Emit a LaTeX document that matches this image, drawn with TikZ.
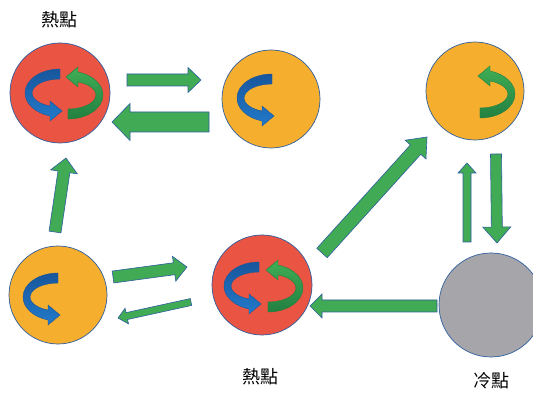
\documentclass[tikz,border=0pt]{standalone}
\usepackage{fontspec}
\newfontfamily\cjk{Noto Sans CJK TC}
\usetikzlibrary{calc}

\definecolor{hotred}{RGB}{234,84,66}
\definecolor{warmorange}{RGB}{245,174,46}
\definecolor{coldgray}{RGB}{166,166,170}
\definecolor{rimblue}{RGB}{46,94,160}
\definecolor{flowgreen}{RGB}{64,170,84}
\definecolor{swblueD}{RGB}{24,86,156}
\definecolor{swblueL}{RGB}{34,122,202}
\definecolor{swgreenD}{RGB}{34,128,64}
\definecolor{swgreenL}{RGB}{64,174,86}

\tikzset{
  spot/.style={circle, inner sep=0pt, minimum size=#1, draw=rimblue, line width=0.7pt},
  barrow/.style={fill=flowgreen, draw=rimblue, line width=0.6pt, line join=miter},
  lbl/.style={font=\cjk\fontsize{18}{20}\selectfont, inner sep=0pt},
  % curved arrow sweeping left, head at the bottom pointing right
  bluesw/.pic={
    \shade[top color=swblueD, bottom color=swblueL, draw=swblueD, line width=0.4pt]
      (0,24) arc[start angle=90, end angle=253.4, x radius=35pt, y radius=24pt]
      -- (-10,-28) -- (2,-18) -- (-10,-8)
      -- (-10,-13.07) arc[start angle=249, end angle=90, x radius=28pt, y radius=14pt]
      -- cycle;
  },
  % curved arrow sweeping right, head at the top pointing left
  greensw/.pic={
    \shade[top color=swgreenL, bottom color=swgreenD, draw=swgreenD, line width=0.4pt]
      (0,-24) arc[start angle=270, end angle=433.4, x radius=35pt, y radius=24pt]
      -- (10,28) -- (-2,18) -- (10,8)
      -- (10,13.07) arc[start angle=429, end angle=270, x radius=28pt, y radius=14pt]
      -- cycle;
  }
}

% block arrow: #1 tail, #2 tip, #3 half shaft width, #4 half head width, #5 head length
\newcommand\blockarrow[5]{%
  \coordinate (ba-h) at ($(#2)!#5!(#1)$);
  \draw[barrow] ($(#1)!#3!90:(#2)$) -- ($(ba-h)!#3!-90:(#1)$) -- ($(ba-h)!#4!-90:(#1)$)
    -- (#2) -- ($(ba-h)!#4!90:(#1)$) -- ($(ba-h)!#3!90:(#1)$) -- ($(#1)!#3!-90:(#2)$) -- cycle;}

\begin{document}
\begin{tikzpicture}[x=1pt, y=1pt]
\useasboundingbox (0,0) rectangle (533,393);

% spots
\node[spot=100pt, fill=hotred]     (hotTL)  at (60,300)  {};
\node[spot=98pt,  fill=warmorange] (warmTM) at (271,294) {};
\node[spot=98pt,  fill=warmorange] (warmTR) at (475,302) {};
\node[spot=98pt,  fill=warmorange] (warmBL) at (58,98)   {};
\node[spot=100pt, fill=hotred]     (hotBM)  at (262,108) {};
\node[spot=104pt, fill=coldgray]   (coldBR) at (491,88)  {};

% swirls inside the spots
\pic at ($(hotTL)+(0,0)$) {bluesw};
\pic at ($(hotTL)+(8,-2)$) {greensw};
\pic at ($(warmTM)+(1,1)$) {bluesw};
\pic at ($(warmTR)+(5,-3)$) {greensw};
\pic at ($(warmBL)+(0,-2)$) {bluesw};
\pic at ($(hotBM)+(-3,-1)$) {bluesw};
\pic at ($(hotBM)+(6,-3)$) {greensw};

% labels
\node[lbl] (lblTL) at (59,373) {熱點};
\node[lbl] (lblBM) at (260,16) {熱點};
\node[lbl] (lblBR) at (491,12) {冷點};

% flow arrow end points
\coordinate (tl-out)  at (127,313);  \coordinate (tm-in)   at (201,313);
\coordinate (tm-out)  at (209,271);  \coordinate (tl-in)   at (112,271);
\coordinate (bl-up)   at (55,161);   \coordinate (tl-low)  at (66,235);
\coordinate (bl-out)  at (113,116);  \coordinate (bm-in)   at (187,126);
\coordinate (bm-back) at (191,91);   \coordinate (bl-in)   at (118,75);
\coordinate (bm-up)   at (322,140);  \coordinate (tr-in)   at (427,256);
\coordinate (br-up)   at (467,151);  \coordinate (tr-low)  at (467,230);
\coordinate (tr-down) at (496,239);  \coordinate (br-top)  at (497,150);
\coordinate (br-out)  at (437,87);   \coordinate (bm-side) at (310,87);

% flow arrows
\blockarrow{tl-out}{tm-in}{6pt}{12.5pt}{13pt}
\blockarrow{tm-out}{tl-in}{10pt}{18.5pt}{18pt}
\blockarrow{bl-up}{tl-low}{6pt}{13.5pt}{14pt}
\blockarrow{bl-out}{bm-in}{6pt}{12.5pt}{13pt}
\blockarrow{bm-back}{bl-in}{3.5pt}{8pt}{9pt}
\blockarrow{bm-up}{tr-in}{7pt}{14pt}{17pt}
\blockarrow{br-up}{tr-low}{4pt}{9pt}{10pt}
\blockarrow{tr-down}{br-top}{5.5pt}{14pt}{16pt}
\blockarrow{br-out}{bm-side}{6pt}{12pt}{12pt}
\end{tikzpicture}
\end{document}
